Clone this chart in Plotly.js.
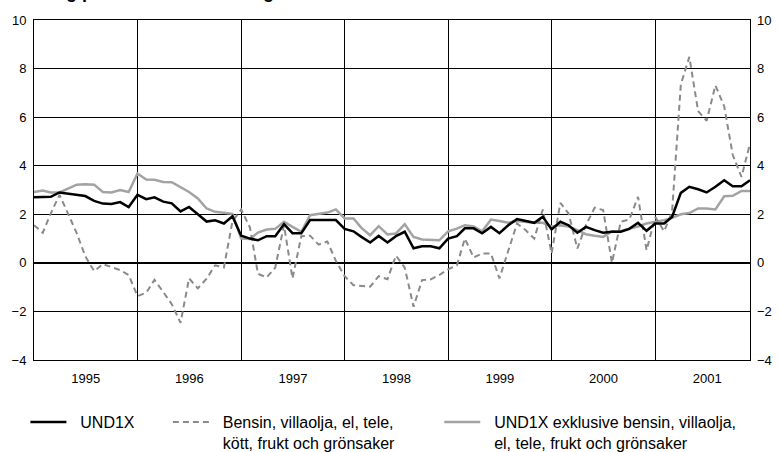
<!DOCTYPE html>
<html>
<head>
<meta charset="utf-8">
<script src="https://cdn.plot.ly/plotly-3.0.1.min.js"></script>
<style>html,body{margin:0;padding:0;background:#fff;}#chart{width:780px;height:452px;}</style>
</head>
<body>
<div id="chart"></div>
<script>
// Monthly observations, January 1995 – December 2001
const startYear = 1995;
const nMonths = 84;
const months = [];
for (let i = 0; i < nMonths; i++) {
  const y = startYear + Math.floor(i / 12);
  const m = (i % 12) + 1;
  months.push(y + '-' + (m < 10 ? '0' + m : m) + '-01');
}

const und1x = [
  2.70, 2.70, 2.72, 2.90, 2.85, 2.82, 2.75, 2.55, 2.44, 2.42, 2.50, 2.30,
  2.80, 2.62, 2.70, 2.52, 2.45, 2.12, 2.30, 2.00, 1.70, 1.75, 1.62, 1.92,
  1.12, 1.00, 0.93, 1.10, 1.10, 1.59, 1.22, 1.22, 1.76, 1.76, 1.76, 1.76,
  1.40, 1.30, 1.07, 0.84, 1.11, 0.84, 1.10, 1.28, 0.60, 0.68, 0.68, 0.60,
  1.00, 1.10, 1.42, 1.42, 1.22, 1.48, 1.22, 1.55, 1.80, 1.72, 1.65, 1.90,
  1.38, 1.69, 1.55, 1.24, 1.48, 1.35, 1.24, 1.28, 1.28, 1.40, 1.65, 1.32,
  1.62, 1.62, 1.89, 2.88, 3.13, 3.03, 2.90, 3.13, 3.40, 3.15, 3.15, 3.40
];

const volatile = [
  1.55, 1.24, 2.03, 2.80, 2.03, 1.21, 0.27, -0.34, -0.05, -0.16, -0.30, -0.50,
  -1.37, -1.23, -0.70, -1.20, -1.70, -2.47, -0.64, -1.05, -0.65, -0.10, -0.19, 1.70,
  2.20, 1.45, -0.45, -0.60, -0.20, 1.55, -0.64, 1.10, 1.12, 0.75, 0.88, 0.08,
  -0.55, -0.92, -0.95, -0.98, -0.55, -0.67, 0.30, -0.20, -1.81, -0.71, -0.68, -0.50,
  -0.27, -0.10, 1.00, 0.22, 0.39, 0.39, -0.64, 0.50, 1.62, 1.35, 1.00, 2.20,
  0.39, 2.47, 2.03, 0.59, 1.55, 2.27, 2.17, 0.00, 1.69, 1.78, 2.72, 0.52,
  1.89, 1.30, 2.10, 7.35, 8.48, 6.25, 5.85, 7.31, 6.45, 4.45, 3.54, 4.91
];

const und1xExcl = [
  2.92, 2.98, 2.90, 2.90, 3.06, 3.22, 3.24, 3.22, 2.92, 2.90, 3.00, 2.92,
  3.68, 3.43, 3.42, 3.33, 3.32, 3.13, 2.92, 2.65, 2.24, 2.10, 2.05, 2.02,
  1.00, 0.98, 1.25, 1.37, 1.40, 1.69, 1.48, 1.28, 1.96, 2.00, 2.07, 2.20,
  1.83, 1.83, 1.44, 1.14, 1.51, 1.17, 1.21, 1.59, 1.07, 0.96, 0.93, 0.93,
  1.30, 1.41, 1.55, 1.50, 1.30, 1.78, 1.72, 1.65, 1.72, 1.68, 1.65, 1.65,
  1.50, 1.55, 1.50, 1.35, 1.18, 1.12, 1.07, 1.30, 1.30, 1.41, 1.50, 1.62,
  1.68, 1.76, 1.85, 2.00, 2.05, 2.24, 2.24, 2.20, 2.74, 2.76, 2.96, 2.96
];

const seriesNames = [
  ['UND1X'],
  ['Bensin, villaolja, el, tele,', 'kött, frukt och grönsaker'],
  ['UND1X exklusive bensin, villaolja,', 'el, tele, frukt och grönsaker']
];
const yTicks = [-4, -2, 0, 2, 4, 6, 8, 10];
const titleText = 'Årlig procentuell förändring';

const FONT = 'Liberation Sans, Arial, sans-serif';
const pad = '\u00a0\u00a0';
const legendLabel = lines => lines.map(s => pad + s).join('<br>');

const traces = [
  {x: months, y: und1xExcl, name: legendLabel(seriesNames[2]), type: 'scatter', mode: 'lines',
   line: {color: '#a3a3a3', width: 2.5}, legend: 'legend3', hoverinfo: 'skip'},
  {x: months, y: volatile, name: legendLabel(seriesNames[1]), type: 'scatter', mode: 'lines',
   line: {color: '#8a8a8a', width: 2, dash: '6px,4px'}, legend: 'legend2', hoverinfo: 'skip'},
  {x: months, y: und1x, name: legendLabel(seriesNames[0]), type: 'scatter', mode: 'lines',
   line: {color: '#000000', width: 2.5}, legend: 'legend', hoverinfo: 'skip'},
  {x: [months[0]], y: [null], yaxis: 'y2', showlegend: false, type: 'scatter', mode: 'lines', hoverinfo: 'skip'}
];

const legendCommon = {
  orientation: 'h', xanchor: 'left', yanchor: 'top', valign: 'top',
  font: {family: FONT, size: 16, color: '#000'}, itemwidth: 36,
  bgcolor: 'rgba(0,0,0,0)', borderwidth: 0
};

const layout = {
  width: 780, height: 452,
  margin: {l: 34, r: 30, t: 20, b: 92, autoexpand: false},
  paper_bgcolor: '#fff', plot_bgcolor: '#fff',
  font: {family: FONT, size: 13, color: '#000'},
  xaxis: {
    type: 'date',
    range: [months[0], months[nMonths - 1]],
    tick0: months[0], dtick: 'M12', tickformat: '%Y', ticklabelmode: 'period',
    showgrid: true, gridcolor: '#000', gridwidth: 1,
    showline: true, linecolor: '#000', linewidth: 1, mirror: true,
    ticks: '', zeroline: false, fixedrange: true, automargin: false,
    ticklabelstandoff: 6,
    tickfont: {family: FONT, size: 13, color: '#000'}
  },
  yaxis: {
    range: [-4, 10], tickvals: yTicks,
    showgrid: true, gridcolor: '#000', gridwidth: 1,
    zeroline: true, zerolinecolor: '#000', zerolinewidth: 2.5,
    showline: true, linecolor: '#000', linewidth: 1, mirror: true,
    ticks: '', fixedrange: true, automargin: false,
    ticklabelstandoff: 4,
    tickfont: {family: FONT, size: 13, color: '#000'}
  },
  yaxis2: {
    overlaying: 'y', side: 'right', range: [-4, 10], tickvals: yTicks,
    showgrid: false, zeroline: false, showline: false, ticks: '', fixedrange: true, automargin: false,
    ticklabelstandoff: 6,
    tickfont: {family: FONT, size: 13, color: '#000'}
  },
  legend: Object.assign({}, legendCommon, {x: -0.012, y: -0.133}),
  legend2: Object.assign({}, legendCommon, {x: 0.187, y: -0.133}),
  legend3: Object.assign({}, legendCommon, {x: 0.566, y: -0.133}),
  annotations: [{
    text: '<b>' + titleText + '</b>', xref: 'paper', yref: 'paper',
    x: 0, y: 1, xanchor: 'left', yanchor: 'bottom', yshift: 16, showarrow: false,
    font: {family: FONT, size: 18, color: '#000'}
  }],
  showlegend: true
};

Plotly.newPlot('chart', traces, layout, {staticPlot: true, displayModeBar: false});
</script>
</body>
</html>
